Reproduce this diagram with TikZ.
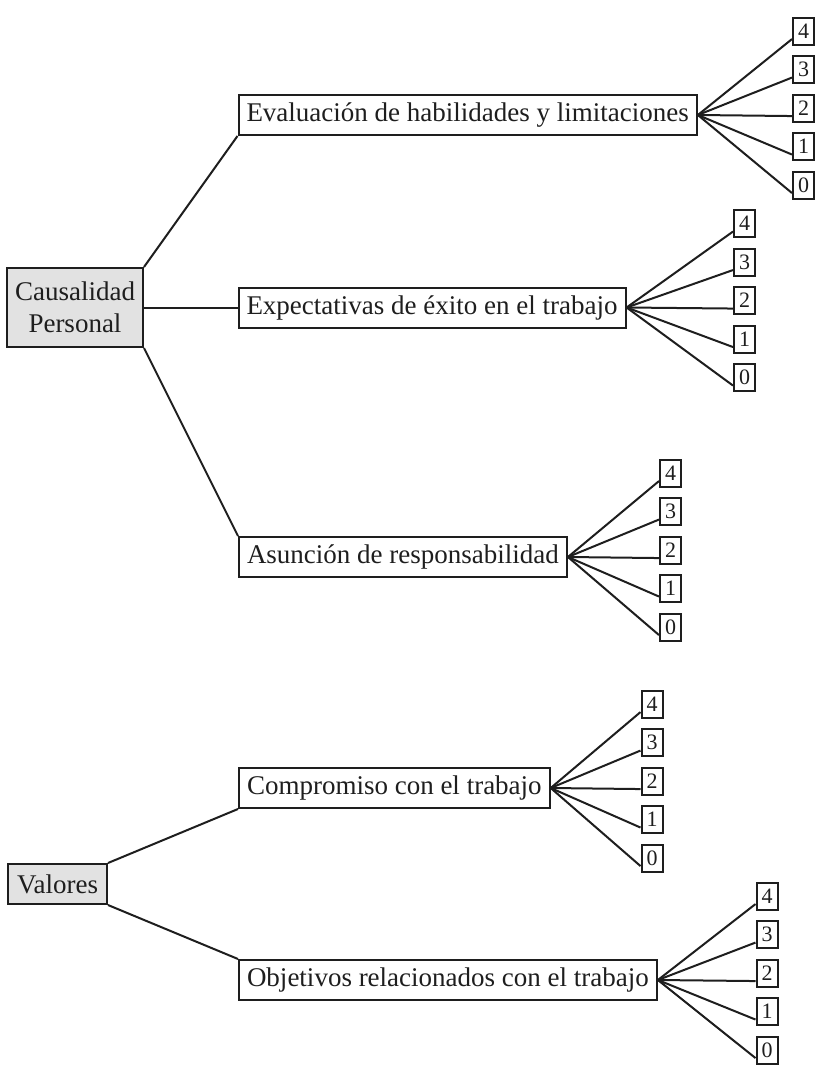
\documentclass[tikz,border=0pt]{standalone}
\usepackage{fontspec}
\setmainfont{Liberation Serif}
\definecolor{tinta}{RGB}{30,30,30}
\definecolor{gris}{RGB}{226,226,226}
\begin{document}
\begin{tikzpicture}[x=1pt,y=-1pt,line width=2pt,color=tinta,
	caja/.style={draw,inner xsep=8pt,inner ysep=0pt,minimum height=40pt,
		anchor=west,font=\fontsize{27}{32}\selectfont},
	raiz/.style={draw,fill=gris,align=center,inner sep=0pt,
		font=\fontsize{27}{32}\selectfont},
	nivel/.style={draw,inner sep=0pt,minimum width=21pt,minimum height=27pt,
		font=\fontsize{22}{22}\selectfont}]
\useasboundingbox (0,0) rectangle (821,1068);
\def\punto#1#2#3#4{
	\node[nivel] (#1#2) at (#3,#4) {#2};
	\draw (#1.east) -- (#1#2.-145);
}
\def\escala#1#2#3{
	\punto{#1}{4}{#2}{#3-84}
	\punto{#1}{3}{#2}{#3-45.5}
	\punto{#1}{2}{#2}{#3-7}
	\punto{#1}{1}{#2}{#3+31.5}
	\punto{#1}{0}{#2}{#3+70}
}
\node[raiz,minimum width=136pt,minimum height=79pt] (cp) at (75,307.5)
	{Causalidad\\Personal};
\node[raiz,minimum width=99pt,minimum height=40pt] (va) at (57.5,884)
	{Valores};
\node[caja] (ev) at (237.5,115) {Evaluación de habilidades y limitaciones};
\node[caja] (ex) at (237.5,307.5) {Expectativas de éxito en el trabajo};
\node[caja] (as) at (238,557) {Asunción de responsabilidad};
\node[caja] (co) at (238,788) {Compromiso con el trabajo};
\node[caja] (ob) at (238,980) {Objetivos relacionados con el trabajo};
\draw (cp.north east) -- (ev.south west);
\draw (cp.east) -- (ex.west);
\draw (cp.south east) -- (as.north west);
\draw (va.north east) -- (co.south west);
\draw (va.south east) -- (ob.north west);
\escala{ev}{803.5}{115}
\escala{ex}{744.5}{307.5}
\escala{as}{670.5}{557}
\escala{co}{652}{788}
\escala{ob}{767}{980}
\end{tikzpicture}
\end{document}
